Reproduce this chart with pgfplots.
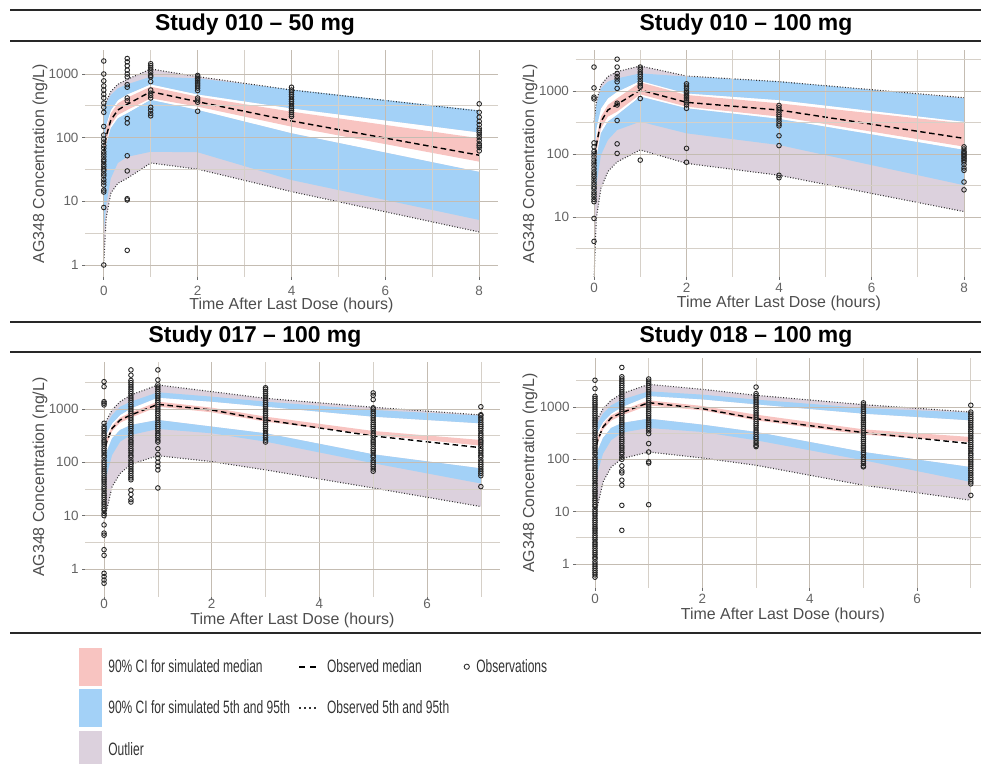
\documentclass[border=0pt]{standalone}
\usepackage{graphicx}
\usepackage{fontspec}
\setmainfont{Liberation Sans}
\usepackage{pgfplots}
\pgfplotsset{compat=1.18}

\definecolor{pinkband}{RGB}{248,196,193}
\definecolor{blueband}{RGB}{163,209,247}
\definecolor{outlier}{RGB}{220,209,221}
\definecolor{gridmajor}{RGB}{196,188,178}
\definecolor{gridminor}{RGB}{214,208,200}
\definecolor{tickgray}{RGB}{110,110,110}
\definecolor{ticktext}{RGB}{100,100,100}
\definecolor{labeltext}{RGB}{77,77,77}
\definecolor{rulegray}{RGB}{40,40,40}

\pgfplotsset{
  vpc/.style={
    axis on top,
    scale only axis,
    axis lines*=left, axis line style={draw=none},
    tick align=outside, major tick length=3bp, minor tick length=0bp,
    tick style={color=tickgray, line width=0.7bp},
    grid=both,
    major grid style={color=gridmajor, line width=0.9bp},
    minor grid style={color=gridminor, line width=0.7bp},
    ticklabel style={font=\fontsize{13.5}{15}\selectfont, text=ticktext},
    label style={font=\fontsize{16}{18}\selectfont, text=labeltext},
    xlabel={Time After Last Dose (hours)},
    ylabel={AG348 Concentration (ng/L)},
  },
  band/.style={draw=none, fill=#1, forget plot},
  medline/.style={black, line width=1.4bp, dash pattern=on 5.5bp off 3.5bp},
  pctline/.style={black!80, line width=1.1bp, dash pattern=on 0.9bp off 1.8bp},
  obs/.style={only marks, mark=o, mark size=2.3bp, mark options={black!85, line width=0.9bp}},
}

\begin{document}
\begin{tikzpicture}
\useasboundingbox (0,0) rectangle (981bp,764bp);

% table rules
\draw[rulegray, line width=1.6bp] (10bp,754bp) -- (981bp,754bp);
\draw[rulegray, line width=1.6bp] (10bp,723bp) -- (981bp,723bp);
\draw[rulegray, line width=1.6bp] (10bp,442bp) -- (981bp,442bp);
\draw[rulegray, line width=1.6bp] (10bp,412bp) -- (981bp,412bp);
\draw[rulegray, line width=2.2bp] (10bp,131bp) -- (981bp,131bp);

% panel titles
\node[font=\bfseries\fontsize{23}{26}\selectfont] at (255bp,739bp) {Study 010 \textendash\ 50 mg};
\node[font=\bfseries\fontsize{23}{26}\selectfont] at (746bp,739bp) {Study 010 \textendash\ 100 mg};
\node[font=\bfseries\fontsize{23}{26}\selectfont] at (255bp,427bp) {Study 017 \textendash\ 100 mg};
\node[font=\bfseries\fontsize{23}{26}\selectfont] at (746bp,427bp) {Study 018 \textendash\ 100 mg};

% ---------------- Study 010, 50 mg ----------------
\begin{axis}[ymode=log, vpc, at={(85bp,487bp)}, anchor=south west, width=413bp, height=227bp,
  xmin=-0.4, xmax=8.4, ymin=0.648, ymax=2382,
  xtick={0,2,4,6,8}, xticklabels={0,2,4,6,8}, minor xtick={1,3,5,7},
  ytick={1,10,100,1000}, yticklabels={1,10,100,1000},
  minor ytick={3.162,31.62,316.2},
  xticklabel style={yshift=-3bp},
  xlabel style={at={(axis description cs:0.5,-0.125)}, anchor=center},
  ylabel style={at={(axis description cs:-0.109,0.5)}, anchor=center}]
\addplot[band=outlier] coordinates {(0,307)(0.05,367)(0.15,528)(0.3,689)(0.5,824)(1,1199)(2,908)(4,561)(8,262)
  (8,121)(4,289)(2,479)(1,689)(0.5,479)(0.3,389)(0.15,272)(0.05,158)(0,60)} --cycle;
\addplot[band=outlier] coordinates {(0,1.06)(0.05,5.4)(0.15,13.4)(0.3,19.2)(0.5,23)(1,40)(2,32)(4,14.2)(8,3.3)
  (8,29)(4,117)(2,272)(1,391)(0.5,241)(0.3,201)(0.15,140)(0.05,77)(0,70)} --cycle;
\addplot[band=blueband] coordinates {(0,289)(0.05,346)(0.15,468)(0.3,595)(0.5,689)(1,908)(2,855)(4,570)(8,268)
  (8,121)(4,289)(2,479)(1,689)(0.5,479)(0.3,389)(0.15,272)(0.05,158)(0,60)} --cycle;
\addplot[band=blueband] coordinates {(0,70)(0.05,77)(0.15,140)(0.3,201)(0.5,241)(1,391)(2,272)(4,117)(8,29)
  (8,5.1)(4,21.6)(2,59)(1,60)(0.5,50)(0.3,40)(0.15,23)(0.05,8.7)(0,3.3)} --cycle;
\addplot[band=pinkband] coordinates {(0,75)(0.05,140)(0.15,241)(0.3,346)(0.5,425)(1,632)(2,441)(4,256)(8,98)
  (8,42)(4,149)(2,307)(1,415)(0.5,272)(0.3,227)(0.15,158)(0.05,86)(0,50)} --cycle;
\addplot[pctline] coordinates {(0,307)(0.05,367)(0.15,528)(0.3,689)(0.5,824)(1,1199)(2,908)(4,561)(8,262)};
\addplot[pctline] coordinates {(0,1.06)(0.05,5.4)(0.15,13.4)(0.3,19.2)(0.5,23)(1,40)(2,32)(4,14.2)(8,3.3)};
\addplot[medline] coordinates {(0,60)(0.05,104)(0.15,189)(0.3,272)(0.5,334)(1,528)(2,367)(4,183)(8,53)};
\addplot[obs] coordinates {
  (0,1600)(0,1000)(0,780)(0,650)(0,560)(0,480)(0,420)(0,350)(0,300)(0,250)(0,150)(0,110)(0,95)(0,85)(0,75)(0,68)(0,60)
  (0,55)(0,50)(0,45)(0,42)(0,38)(0,35)(0,32)(0,30)(0,27)(0,25)(0,22)(0,20)(0,18)(0,15)(0,14)(0,8)(0,1)
  (0.5,1750)(0.5,1550)(0.5,1350)(0.5,1150)(0.5,1000)(0.5,900)(0.5,680)(0.5,620)(0.5,420)(0.5,380)(0.5,200)(0.5,170)
  (0.5,52)(0.5,30)(0.5,11)(0.5,10.5)(0.5,1.7)
  (1,1450)(1,1350)(1,1250)(1,1150)(1,1050)(1,950)(1,900)(1,760)(1,560)(1,500)(1,460)(1,420)(1,300)(1,270)(1,240)(1,220)
  (2,950)(2,900)(2,850)(2,800)(2,750)(2,700)(2,650)(2,600)(2,550)(2,420)(2,390)(2,360)(2,260)
  (4,620)(4,560)(4,520)(4,480)(4,440)(4,400)(4,370)(4,340)(4,310)(4,290)(4,270)(4,250)(4,230)(4,215)
  (8,340)(8,250)(8,210)(8,180)(8,160)(8,140)(8,130)(8,120)(8,110)(8,100)(8,90)(8,80)(8,75)(8,70)(8,62)};
\end{axis}

% ---------------- Study 010, 100 mg ----------------
\begin{axis}[ymode=log, vpc, at={(575.5bp,487bp)}, anchor=south west, width=407bp, height=227bp,
  xmin=-0.4, xmax=8.4, ymin=1.117, ymax=4477,
  xtick={0,2,4,6,8}, xticklabels={0,2,4,6,8}, minor xtick={1,3,5,7},
  ytick={10,100,1000}, yticklabels={10,100,1000},
  minor ytick={3.162,31.62,316.2,3162},
  xlabel style={at={(axis description cs:0.5,-0.115)}, anchor=center},
  ylabel style={at={(axis description cs:-0.112,0.5)}, anchor=center}]
\addplot[band=outlier] coordinates {(0,326)(0.05,678)(0.15,1245)(0.3,1692)(0.5,2030)(1,2493)(2,1730)(4,1407)(8,783)
  (8,326)(4,719)(2,918)(1,1450)(0.5,976)(0.3,765)(0.15,531)(0.05,255)(0,60)} --cycle;
\addplot[band=outlier] coordinates {(0,1.0)(0.05,9.5)(0.15,28.5)(0.3,52.5)(0.5,75)(1,116)(2,71)(4,46)(8,12.2)
  (8,116)(4,360)(2,531)(1,813)(0.5,416)(0.3,326)(0.15,213)(0.05,85)(0,50)} --cycle;
\addplot[band=blueband] coordinates {(0,255)(0.05,600)(0.15,1103)(0.3,1407)(0.5,1585)(1,1905)(2,1692)(4,1420)(8,765)
  (8,326)(4,719)(2,918)(1,1450)(0.5,976)(0.3,765)(0.15,531)(0.05,255)(0,60)} --cycle;
\addplot[band=blueband] coordinates {(0,50)(0.05,85)(0.15,213)(0.3,326)(0.5,416)(1,813)(2,531)(4,360)(8,116)
  (8,32)(4,139)(2,213)(1,326)(0.5,240)(0.3,167)(0.15,96)(0.05,32)(0,8.4)} --cycle;
\addplot[band=pinkband] coordinates {(0,60)(0.05,177)(0.15,392)(0.3,600)(0.5,765)(1,1373)(2,865)(4,637)(8,307)
  (8,131)(4,392)(2,564)(1,885)(0.5,470)(0.3,392)(0.15,255)(0.05,109)(0,32)} --cycle;
\addplot[pctline] coordinates {(0,326)(0.05,678)(0.15,1245)(0.3,1692)(0.5,2030)(1,2493)(2,1730)(4,1407)(8,783)};
\addplot[pctline] coordinates {(0,1.0)(0.05,9.5)(0.15,28.5)(0.3,52.5)(0.5,75)(1,116)(2,71)(4,46)(8,12.2)};
\addplot[medline] coordinates {(0,36)(0.05,139)(0.15,326)(0.3,499)(0.5,614)(1,1037)(2,661)(4,499)(8,177)};
\addplot[obs] coordinates {
  (0,2400)(0,1120)(0,800)(0,750)(0,150)(0,130)(0,110)(0,100)(0,90)(0,80)(0,72)(0,65)(0,58)(0,52)(0,48)(0,44)(0,40)
  (0,36)(0,33)(0,30)(0,28)(0,25)(0,23)(0,21)(0,19)(0,17.5)(0,9.5)(0,4.1)
  (0.5,3200)(0.5,2400)(0.5,1900)(0.5,1700)(0.5,1550)(0.5,1400)(0.5,1100)(0.5,640)(0.5,600)(0.5,340)(0.5,145)(0.5,102)
  (1,2400)(1,2200)(1,2000)(1,1850)(1,1700)(1,1550)(1,1400)(1,1300)(1,1200)(1,1150)(1,760)(1,80)
  (2,1300)(2,1200)(2,1100)(2,1000)(2,950)(2,900)(2,850)(2,800)(2,750)(2,700)(2,650)(2,600)(2,530)(2,123)(2,74)
  (4,590)(4,540)(4,500)(4,460)(4,420)(4,390)(4,360)(4,330)(4,300)(4,280)(4,195)(4,136)(4,46)(4,42)
  (8,130)(8,120)(8,110)(8,105)(8,100)(8,95)(8,90)(8,85)(8,80)(8,75)(8,68)(8,60)(8,55)(8,36)(8,27)};
\end{axis}

% ---------------- Study 017, 100 mg ----------------
\begin{axis}[ymode=log, vpc, at={(85.2bp,167bp)}, anchor=south west, width=414.5bp, height=235bp,
  xmin=-0.35, xmax=7.35, ymin=0.298, ymax=7600,
  xtick={0,2,4,6}, xticklabels={0,2,4,6}, minor xtick={1,3,5,7},
  ytick={1,10,100,1000}, yticklabels={1,10,100,1000},
  minor ytick={3.162,31.62,316.2,3162},
  xticklabel style={yshift=4bp},
  xlabel style={at={(axis description cs:0.5,-0.098)}, anchor=center},
  ylabel style={at={(axis description cs:-0.109,0.51)}, anchor=center}]
\addplot[band=outlier] coordinates {(0,467)(0.05,622)(0.15,958)(0.3,1372)(0.5,1832)(1,2818)(2,2113)(3,1585)(5,1075)(7,772)
  (7,538)(5,718)(3,1106)(2,1372)(1,1633)(0.5,1030)(0.3,772)(0.15,538)(0.05,350)(0,244)} --cycle;
\addplot[band=outlier] coordinates {(0,7.7)(0.05,12.8)(0.15,35)(0.3,62)(0.5,92)(1,133)(2,103)(3,72)(5,33)(7,14.8)
  (7,77)(5,141)(3,350)(2,467)(1,622)(0.5,501)(0.3,404)(0.15,282)(0.05,158)(0,89)} --cycle;
\addplot[band=blueband] coordinates {(0,376)(0.05,538)(0.15,772)(0.3,1106)(0.5,1372)(1,2054)(2,1703)(3,1372)(5,958)(7,750)
  (7,538)(5,718)(3,1106)(2,1372)(1,1633)(0.5,1030)(0.3,772)(0.15,538)(0.05,350)(0,244)} --cycle;
\addplot[band=blueband] coordinates {(0,89)(0.05,158)(0.15,282)(0.3,404)(0.5,501)(1,622)(2,467)(3,350)(5,141)(7,77)
  (7,40)(5,96)(3,244)(2,350)(1,422)(0.5,326)(0.3,244)(0.15,137)(0.05,58)(0,24)} --cycle;
\addplot[band=pinkband] coordinates {(0,158)(0.05,282)(0.15,487)(0.3,688)(0.5,866)(1,1372)(2,1059)(3,718)(5,387)(7,262)
  (7,205)(5,326)(3,579)(2,866)(1,1106)(0.5,688)(0.3,554)(0.15,387)(0.05,218)(0,119)} --cycle;
\addplot[pctline] coordinates {(0,467)(0.05,622)(0.15,958)(0.3,1372)(0.5,1832)(1,2818)(2,2113)(3,1585)(5,1075)(7,772)};
\addplot[pctline] coordinates {(0,7.7)(0.05,12.8)(0.15,35)(0.3,62)(0.5,92)(1,133)(2,103)(3,72)(5,33)(7,14.8)};
\addplot[medline] coordinates {(0,137)(0.05,244)(0.15,434)(0.3,622)(0.5,772)(1,1223)(2,958)(3,622)(5,312)(7,188)};
\addplot[obs] coordinates {
  (0,3250)(0,2620)(0,1370)(0,1280)(0,1190)(0,540)(0,470)(0,430)(0,390)(0,350)(0,320)(0,290)(0,260)(0,240)(0,220)(0,200)
  (0,180)(0,165)(0,150)(0,135)(0,125)(0,110)(0,100)(0,91)(0,83)(0,75)(0,68)(0,62)(0,56)(0,51)(0,47)(0,43)(0,39)(0,35)
  (0,32)(0,29)(0,26)(0,24)(0,22)(0,20)(0,18)(0,16.5)(0,15)(0,13.5)(0,12.5)(0,11)(0,10)(0,6.7)(0,4.7)(0,4.3)(0,2.3)
  (0,1.8)(0,0.83)(0,0.72)(0,0.62)(0,0.54)
  (0.5,5400)(0.5,4300)(0.5,3430)(0.5,3120)(0.5,2840)(0.5,2580)(0.5,2350)(0.5,2130)(0.5,1940)(0.5,1760)(0.5,1600)
  (0.5,1460)(0.5,1330)(0.5,1200)(0.5,1100)(0.5,1000)(0.5,910)(0.5,830)(0.5,750)(0.5,680)(0.5,620)(0.5,560)(0.5,510)
  (0.5,470)(0.5,430)(0.5,390)(0.5,350)(0.5,320)(0.5,290)(0.5,260)(0.5,240)(0.5,220)(0.5,200)(0.5,180)(0.5,165)
  (0.5,150)(0.5,135)(0.5,125)(0.5,110)(0.5,100)(0.5,91)(0.5,83)(0.5,75)(0.5,68)(0.5,62)(0.5,56)(0.5,51)(0.5,47)
  (0.5,30)(0.5,25)(0.5,20)(0.5,18)
  (1,5400)(1,3500)(1,2840)(1,2580)(1,2350)(1,2130)(1,1940)(1,1760)(1,1600)(1,1460)(1,1330)(1,1200)(1,1100)(1,1000)
  (1,910)(1,830)(1,750)(1,680)(1,620)(1,560)(1,510)(1,470)(1,430)(1,390)(1,350)(1,320)(1,290)(1,260)(1,240)
  (1,180)(1,140)(1,120)(1,100)(1,85)(1,72)(1,33)
  (3,2500)(3,2350)(3,2130)(3,1940)(3,1760)(3,1600)(3,1460)(3,1330)(3,1200)(3,1100)(3,1000)(3,910)(3,830)(3,750)
  (3,680)(3,620)(3,560)(3,510)(3,470)(3,430)(3,390)(3,350)(3,320)(3,290)(3,260)(3,240)
  (5,2000)(5,1800)(5,1500)(5,1050)(5,1000)(5,910)(5,830)(5,750)(5,680)(5,620)(5,560)(5,510)(5,470)(5,430)(5,390)
  (5,350)(5,320)(5,290)(5,260)(5,240)(5,220)(5,200)(5,180)(5,165)(5,150)(5,135)(5,125)(5,110)(5,100)(5,91)(5,83)
  (5,75)(5,68)
  (7,1100)(7,780)(7,750)(7,680)(7,620)(7,560)(7,510)(7,470)(7,430)(7,390)(7,350)(7,320)(7,290)(7,260)(7,240)(7,220)
  (7,200)(7,180)(7,165)(7,150)(7,135)(7,125)(7,110)(7,100)(7,91)(7,83)(7,75)(7,68)(7,62)(7,56)(7,35)};
\end{axis}

% ---------------- Study 018, 100 mg ----------------
\begin{axis}[ymode=log, vpc, at={(576.2bp,176bp)}, anchor=south west, width=413.4bp, height=230bp,
  xmin=-0.35, xmax=7.35, ymin=0.348, ymax=8630,
  xtick={0,2,4,6}, xticklabels={0,2,4,6}, minor xtick={1,3,5,7},
  ytick={1,10,100,1000}, yticklabels={1,10,100,1000},
  minor ytick={3.162,31.62,316.2,3162},
  xlabel style={at={(axis description cs:0.5,-0.117)}, anchor=center},
  ylabel style={at={(axis description cs:-0.112,0.5)}, anchor=center}]
\addplot[band=outlier] coordinates {(0,415)(0.05,598)(0.15,929)(0.3,1340)(0.5,1798)(1,2710)(2,2178)(3,1671)(5,1108)(7,802)
  (7,556)(5,747)(3,1125)(2,1400)(1,1623)(0.5,1000)(0.3,747)(0.15,516)(0.05,333)(0,221)} --cycle;
\addplot[band=outlier] coordinates {(0,7.3)(0.05,13.2)(0.15,37)(0.3,71)(0.5,103)(1,138)(2,106)(3,77)(5,32)(7,16.5)
  (7,71)(5,138)(3,333)(2,459)(1,598)(0.5,494)(0.3,397)(0.15,256)(0.05,149)(0,83)} --cycle;
\addplot[band=blueband] coordinates {(0,333)(0.05,502)(0.15,747)(0.3,1076)(0.5,1381)(1,1991)(2,1722)(3,1381)(5,957)(7,779)
  (7,556)(5,747)(3,1125)(2,1400)(1,1623)(0.5,1000)(0.3,747)(0.15,516)(0.05,333)(0,221)} --cycle;
\addplot[band=blueband] coordinates {(0,83)(0.05,149)(0.15,256)(0.3,397)(0.5,494)(1,598)(2,459)(3,333)(5,138)(7,71)
  (7,37)(5,96)(3,231)(2,333)(1,397)(0.5,324)(0.3,231)(0.15,128)(0.05,57)(0,24)} --cycle;
\addplot[band=pinkband] coordinates {(0,149)(0.05,267)(0.15,467)(0.3,693)(0.5,863)(1,1340)(2,1045)(3,714)(5,374)(7,267)
  (7,214)(5,296)(3,556)(2,863)(1,1076)(0.5,693)(0.3,548)(0.15,369)(0.05,205)(0,111)} --cycle;
\addplot[pctline] coordinates {(0,415)(0.05,598)(0.15,929)(0.3,1340)(0.5,1798)(1,2710)(2,2178)(3,1671)(5,1108)(7,802)};
\addplot[pctline] coordinates {(0,7.3)(0.05,13.2)(0.15,37)(0.3,71)(0.5,103)(1,138)(2,106)(3,77)(5,32)(7,16.5)};
\addplot[medline] coordinates {(0,128)(0.05,231)(0.15,415)(0.3,617)(0.5,779)(1,1210)(2,929)(3,598)(5,324)(7,199)};
\addplot[obs] coordinates {
  (0,3240)(0,2240)(0,1600)(0,1460)(0,1330)(0,1200)(0,1100)(0,1000)(0,910)(0,830)(0,750)(0,680)(0,620)(0,560)(0,510)
  (0,470)(0,430)(0,390)(0,350)(0,320)(0,290)(0,260)(0,240)(0,220)(0,200)(0,180)(0,165)(0,150)(0,135)(0,125)(0,110)
  (0,100)(0,91)(0,83)(0,75)(0,68)(0,62)(0,56)(0,51)(0,47)(0,43)(0,39)(0,35)(0,32)(0,29)(0,26)(0,24)(0,22)(0,20)
  (0,18)(0,16.5)(0,15)(0,13.5)(0,12.5)(0,11)(0,10)(0,9.1)(0,8.3)(0,7.5)(0,6.8)(0,6.2)(0,5.6)(0,5.1)(0,4.7)(0,4.3)
  (0,3.9)(0,3.5)(0,3.2)(0,2.9)(0,2.6)(0,2.4)(0,2.2)(0,2.0)(0,1.8)(0,1.65)(0,1.5)(0,1.35)(0,1.25)(0,1.1)(0,1.0)
  (0,0.91)(0,0.83)(0,0.75)(0,0.68)(0,0.62)(0,0.56)
  (0.5,5700)(0.5,3780)(0.5,3430)(0.5,3120)(0.5,2840)(0.5,2580)(0.5,2350)(0.5,2130)(0.5,1940)(0.5,1760)(0.5,1600)
  (0.5,1460)(0.5,1330)(0.5,1200)(0.5,1100)(0.5,1000)(0.5,910)(0.5,830)(0.5,750)(0.5,680)(0.5,620)(0.5,560)(0.5,510)
  (0.5,470)(0.5,430)(0.5,390)(0.5,350)(0.5,320)(0.5,290)(0.5,260)(0.5,240)(0.5,220)(0.5,200)(0.5,180)(0.5,165)
  (0.5,150)(0.5,135)(0.5,125)(0.5,110)(0.5,100)(0.5,75)(0.5,60)(0.5,55)(0.5,40)(0.5,32)(0.5,13.2)(0.5,4.4)
  (1,3430)(1,3120)(1,2840)(1,2580)(1,2350)(1,2130)(1,1940)(1,1760)(1,1600)(1,1460)(1,1330)(1,1200)(1,1100)(1,1000)
  (1,910)(1,830)(1,750)(1,680)(1,620)(1,560)(1,510)(1,470)(1,430)(1,390)(1,350)(1,310)(1,200)(1,138)(1,90)(1,85)(1,13.6)
  (3,2400)(3,1800)(3,1640)(3,1500)(3,1360)(3,1240)(3,1130)(3,1030)(3,940)(3,850)(3,770)(3,700)(3,640)(3,580)
  (3,530)(3,480)(3,440)(3,400)(3,360)(3,330)(3,300)(3,270)(3,250)(3,225)(3,205)(3,185)(3,175)
  (5,1200)(5,1100)(5,1000)(5,910)(5,830)(5,750)(5,680)(5,620)(5,560)(5,510)(5,470)(5,430)(5,390)(5,350)(5,320)
  (5,290)(5,260)(5,240)(5,220)(5,200)(5,180)(5,165)(5,150)(5,135)(5,125)(5,110)(5,100)(5,91)(5,83)(5,75)(5,72)
  (7,1080)(7,800)(7,730)(7,660)(7,600)(7,550)(7,500)(7,455)(7,415)(7,375)(7,340)(7,310)(7,280)(7,255)(7,230)
  (7,210)(7,190)(7,175)(7,160)(7,145)(7,130)(7,120)(7,108)(7,98)(7,89)(7,81)(7,74)(7,67)(7,61)(7,55)(7,50)(7,45)
  (7,41)(7,37)(7,34)(7,20.5)};
\end{axis}

% ---------------- shared legend ----------------
\begin{axis}[at={(0bp,0bp)}, anchor=south west, scale only axis,
  width=981bp, height=764bp, xmin=0, xmax=1, ymin=0, ymax=1, hide axis,
  legend columns=3,
  legend cell align=left,
  legend style={at={(axis description cs:0.0805,0.1518)}, anchor=north west,
    draw=none, fill=none, inner sep=0pt, outer sep=0pt,
    font=\fontsize{18}{20}\selectfont, text=black!80,
    row sep=4bp,
    nodes={inner sep=0pt},
    /tikz/column 1/.style={column sep=7bp},
    /tikz/column 2/.style={column sep=8bp},
    /tikz/column 3/.style={column sep=10bp},
    /tikz/column 4/.style={column sep=9bp},
    /tikz/column 5/.style={column sep=7bp}}]
\addlegendimage{legend image code/.code={\fill[pinkband] (0bp,-18.5bp) rectangle (22bp,18.5bp);}}
\addlegendentry{\scalebox{0.67}[1]{90\% CI for simulated median}}
\addlegendimage{legend image code/.code={\draw[black, line width=2bp, dash pattern=on 6bp off 5bp] (0bp,0bp) -- (17bp,0bp);}}
\addlegendentry{\scalebox{0.67}[1]{Observed median}}
\addlegendimage{only marks, mark=o, mark size=2.6bp, mark options={black!80, line width=0.9bp}}
\addlegendentry{\scalebox{0.67}[1]{Observations}}
\addlegendimage{legend image code/.code={\fill[blueband] (0bp,-18.5bp) rectangle (22bp,18.5bp);}}
\addlegendentry{\scalebox{0.67}[1]{90\% CI for simulated 5th and 95th}}
\addlegendimage{legend image code/.code={\draw[black!80, line width=1.8bp, dash pattern=on 1.5bp off 3.5bp] (0bp,0bp) -- (17bp,0bp);}}
\addlegendentry{\scalebox{0.67}[1]{Observed 5th and 95th}}
\addlegendimage{empty legend}
\addlegendentry{}
\addlegendimage{legend image code/.code={\fill[outlier] (0bp,-18.5bp) rectangle (22bp,18.5bp);}}
\addlegendentry{\scalebox{0.67}[1]{Outlier}}
\end{axis}
\end{tikzpicture}
\end{document}
